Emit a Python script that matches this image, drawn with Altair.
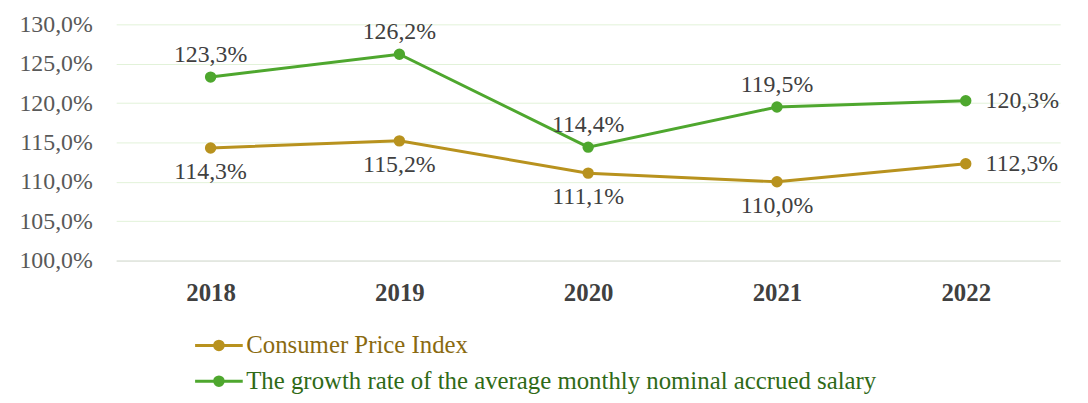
import altair as alt
import pandas as pd

years = ["2018", "2019", "2020", "2021", "2022"]
cpi = [114.3, 115.2, 111.1, 110.0, 112.3]
salary = [123.3, 126.2, 114.4, 119.5, 120.3]
series_names = ["Consumer Price Index",
                "The growth rate of the average monthly nominal accrued salary"]
colors = ["#b8921e", "#4ea72e"]
legend_text_colors = ["#8a6a10", "#2f6a17"]

rows = []
for i, y in enumerate(years):
    rows.append({"year": y, "series": series_names[0], "value": cpi[i]})
    rows.append({"year": y, "series": series_names[1], "value": salary[i]})
df = pd.DataFrame(rows)

FONT = "Liberation Serif"
cscale = alt.Scale(domain=series_names, range=colors)
sym_path = "M-2,0H2M-0.36,0A0.36,0.36,0,1,1,0.36,0A0.36,0.36,0,1,1,-0.36,0Z"
label_color_expr = (
    f"datum.value == '{series_names[0]}' ? '{legend_text_colors[0]}' : '{legend_text_colors[1]}'"
)
legend = alt.Legend(
    title=None, orient="none", legendX=90, legendY=310, direction="vertical",
    symbolType=sym_path, symbolSize=576, symbolStrokeWidth=3,
    labelFont=FONT, labelFontSize=25, labelColor={"expr": label_color_expr},
    labelOffset=14, rowPadding=9, padding=0, labelLimit=900,
)

base = alt.Chart(df).encode(
    x=alt.X("year:O", title=None,
            axis=alt.Axis(labelAngle=0, labelFont=FONT, labelFontSize=25,
                          labelFontWeight="bold", labelColor="#404040",
                          domainColor="#d9d9d9", ticks=False, labelPadding=20)),
    y=alt.Y("value:Q", title=None,
            scale=alt.Scale(domain=[100, 130], nice=False, zero=False),
            axis=alt.Axis(values=[100, 105, 110, 115, 120, 125, 130],
                          labelExpr="replace(format(datum.value, '.1f'), '.', ',') + '%'",
                          labelFont=FONT, labelFontSize=24, labelColor="#595959",
                          domain=False, ticks=False, labelPadding=24,
                          gridColor="#e2f2d9", gridWidth=1)),
)

lines = base.mark_line(strokeWidth=3).encode(
    color=alt.Color("series:N", scale=cscale, legend=legend, sort=series_names),
)
points = base.mark_point(filled=True, size=90, opacity=1).encode(
    color=alt.Color("series:N", scale=cscale, legend=legend, sort=series_names),
    stroke=alt.Stroke("series:N", scale=cscale, legend=legend, sort=series_names),
)

labelled = base.transform_calculate(
    lab="replace(format(datum.value, '.1f'), '.', ',') + '%'"
)
txt = dict(font=FONT, fontSize=24, color="#404040")
above = labelled.transform_filter(
    (alt.datum.series == series_names[1]) & (alt.datum.year != "2022")
).mark_text(dy=-22, **txt).encode(text="lab:N")
below = labelled.transform_filter(
    (alt.datum.series == series_names[0]) & (alt.datum.year != "2022")
).mark_text(dy=24, **txt).encode(text="lab:N")
right = labelled.transform_filter(
    alt.datum.year == "2022"
).mark_text(dx=20, align="left", **txt).encode(text="lab:N")

chart = alt.layer(lines, points, above, below, right).properties(
    width=951, height=238,
    autosize=alt.AutoSizeParams(type="none"),
    padding={"left": 109, "top": 15, "right": 20, "bottom": 134},
).configure_view(stroke=None).configure_axisX(grid=False)

chart.save("out.html", embed_options={"renderer": "svg", "actions": False})
